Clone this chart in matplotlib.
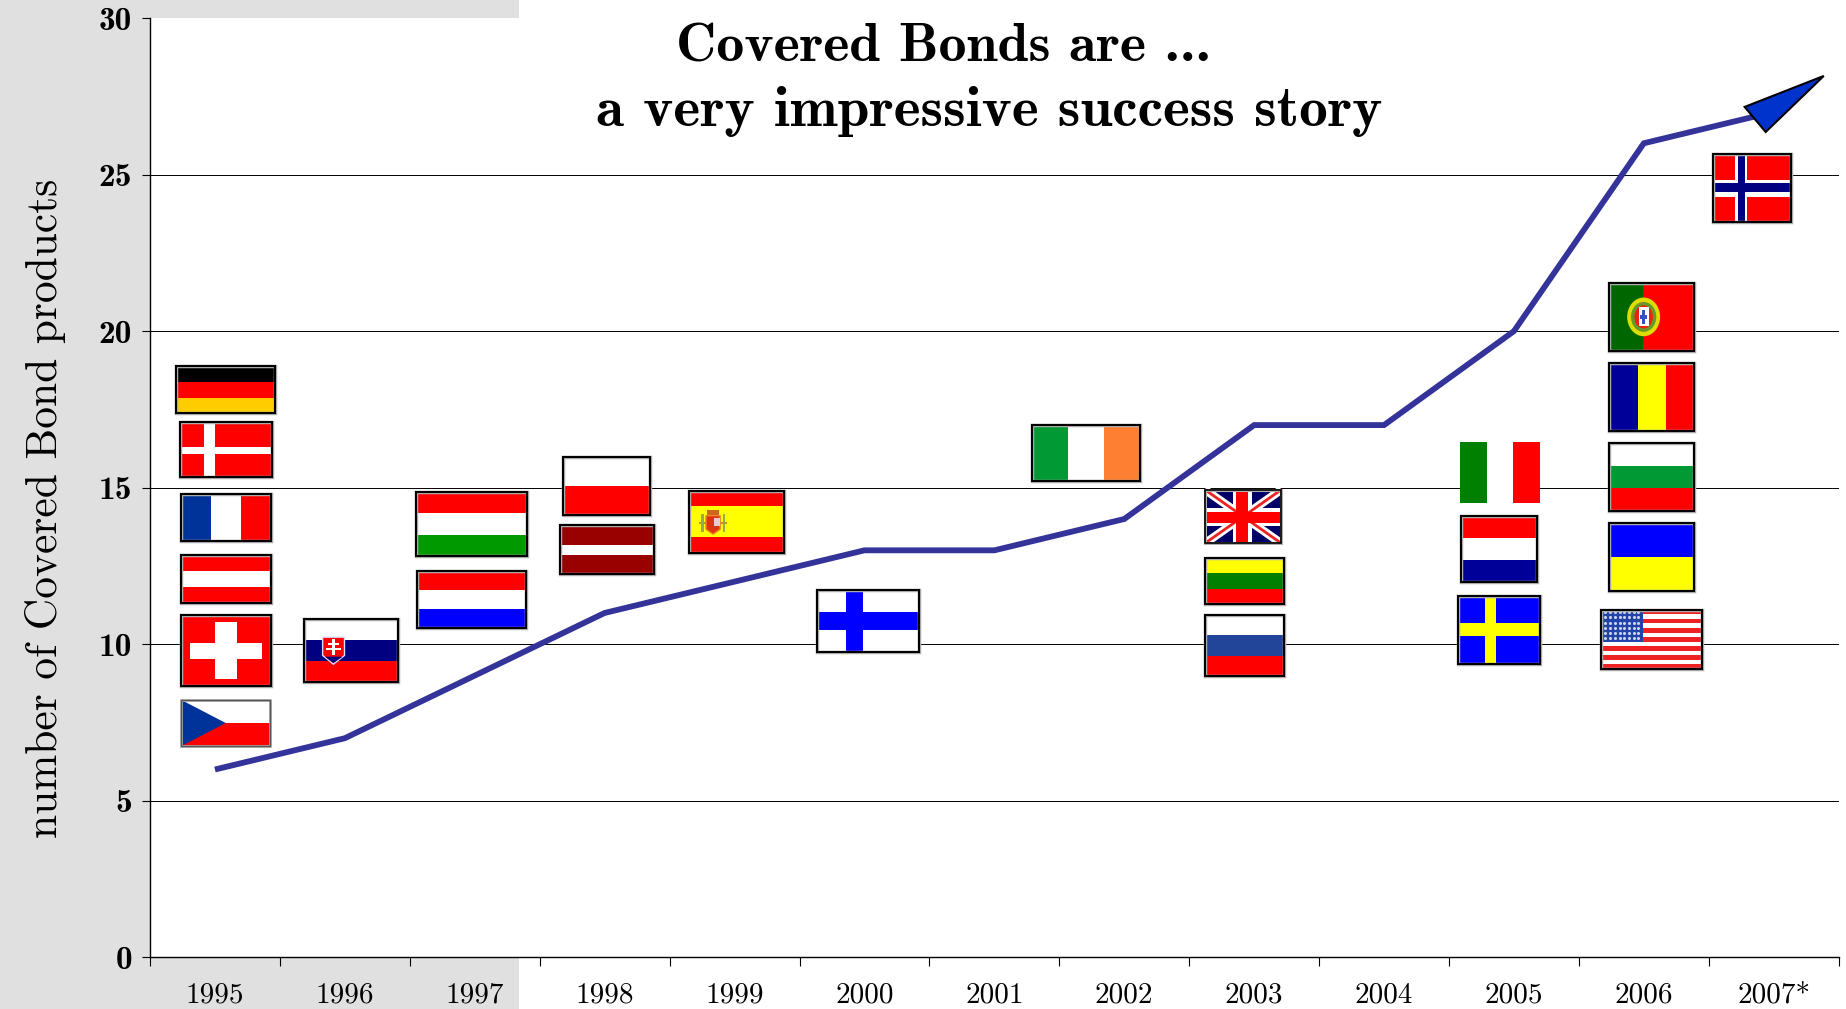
import numpy as np
import matplotlib
matplotlib.use("Agg")
import matplotlib.pyplot as plt
from matplotlib.patches import Rectangle, Polygon, Ellipse
from matplotlib.transforms import Affine2D

# === DATA ===
years = ["1995", "1996", "1997", "1998", "1999", "2000", "2001",
         "2002", "2003", "2004", "2005", "2006", "2007*"]
products = [6, 7, 9, 11, 12, 13, 13, 14, 17, 17, 20, 26, 27]
y_ticks = [0, 5, 10, 15, 20, 25, 30]

# flag boxes in axis units: left, right, bottom, top
flag_boxes = {
    "germany": (-0.30, 0.466, 17.37, 18.90),
    "denmark": (-0.27, 0.436, 15.33, 17.10),
    "france": (-0.265, 0.428, 13.29, 14.80),
    "austria": (-0.265, 0.428, 11.32, 12.85),
    "switzerland": (-0.262, 0.428, 8.68, 10.94),
    "czech": (-0.258, 0.424, 6.75, 8.22),
    "slovakia": (0.689, 1.406, 8.80, 10.81),
    "hungary": (1.551, 2.403, 12.82, 14.86),
    "netherlands": (1.555, 2.391, 10.53, 12.34),
    "poland": (2.679, 3.350, 14.13, 15.98),
    "latvia": (2.656, 3.380, 12.25, 13.81),
    "spain": (3.649, 4.377, 12.92, 14.90),
    "finland": (4.638, 5.420, 9.75, 11.73),
    "ireland": (6.287, 7.123, 15.20, 17.00),
    "uk": (7.620, 8.210, 13.22, 14.94),
    "lithuania": (7.620, 8.230, 11.29, 12.76),
    "russia": (7.620, 8.230, 8.99, 10.94),
    "italy": (9.585, 10.200, 14.51, 16.46),
    "luxembourg": (9.590, 10.180, 11.99, 14.10),
    "sweden": (9.570, 10.200, 9.37, 11.53),
    "portugal": (10.735, 11.385, 19.37, 21.54),
    "romania": (10.735, 11.385, 16.81, 18.98),
    "bulgaria": (10.735, 11.385, 14.26, 16.43),
    "ukraine": (10.735, 11.385, 11.70, 13.87),
    "usa": (10.672, 11.447, 9.21, 11.10),
    "norway": (11.530, 12.130, 23.49, 25.67),
}

# top to bottom
h_stripes = {
    "germany": ["#000000", "#ff0000", "#ffcc00"],
    "austria": ["#ff0000", "#ffffff", "#ff0000"],
    "slovakia": ["#ffffff", "#000080", "#ff0000"],
    "hungary": ["#ff0000", "#ffffff", "#009900"],
    "netherlands": ["#ff0000", "#ffffff", "#0000ff"],
    "poland": ["#ffffff", "#ff0000"],
    "lithuania": ["#ffff00", "#008000", "#ff0000"],
    "russia": ["#ffffff", "#224499", "#ff0000"],
    "luxembourg": ["#ff0000", "#ffffff", "#000099"],
    "bulgaria": ["#ffffff", "#009933", "#ff0000"],
    "ukraine": ["#0000ff", "#ffff00"],
}
v_stripes = {
    "france": ["#003399", "#ffffff", "#ff0000"],
    "ireland": ["#009933", "#ffffff", "#ff7f32"],
    "italy": ["#008000", "#ffffff", "#ff0000"],
    "romania": ["#000099", "#ffff00", "#ff0000"],
}

# === FIGURE ===
fig = plt.figure(figsize=(18.46, 10.09), dpi=100, facecolor="white")
fig.patches.append(Rectangle((0, 0), 519 / 1846, 1, transform=fig.transFigure,
                             facecolor="#e0e0e0", edgecolor="none", zorder=-5))
ax = fig.add_axes([150 / 1846, 51.6 / 1009, 1688.7 / 1846, 939.4 / 1009])
ax.set_facecolor("white")
ax.set_xlim(-0.5, 12.5)
ax.set_ylim(0, 30)

for s in ["top", "right"]:
    ax.spines[s].set_visible(False)
ax.spines["left"].set_linewidth(1.0)
ax.spines["bottom"].set_linewidth(1.0)

ax.set_yticks(y_ticks)
ax.set_yticklabels([str(v) for v in y_ticks], fontfamily="cmb10", fontsize=24)
ax.tick_params(axis="y", length=6, width=0.8, pad=7)
ax.set_xticks(np.arange(-0.5, 13, 1))
ax.set_xticklabels([])
ax.set_xticks(np.arange(len(years)), minor=True)
ax.set_xticklabels(years, minor=True, fontfamily="cmr10", fontsize=21)
ax.tick_params(axis="x", which="major", length=6.5, width=0.8)
ax.tick_params(axis="x", which="minor", length=0, pad=18)

ax.set_axisbelow(True)
ax.grid(axis="y", color="black", linewidth=0.7)
ax.yaxis.get_gridlines()[-1].set_visible(False)
ax.yaxis.get_gridlines()[0].set_visible(False)


# === FLAG HELPERS ===
def flag_transform(name):
    left, right, bottom, top = flag_boxes[name]
    return Affine2D().scale(right - left, top - bottom).translate(left, bottom) + ax.transData


def box(tr, x0, x1, y0, y1, color, z=3):
    r = Rectangle((x0, y0), x1 - x0, y1 - y0, transform=tr, facecolor=color,
                  edgecolor="none", zorder=z)
    ax.add_patch(r)
    return r


def border(tr, color="black", lw=1.5):
    # flags have a soft grey halo round the black frame
    ax.add_patch(Rectangle((0, 0), 1, 1, transform=tr, facecolor="none",
                           edgecolor="#b0b0b0", linewidth=lw + 1.0, zorder=5.9))
    ax.add_patch(Rectangle((0, 0), 1, 1, transform=tr, facecolor="none",
                           edgecolor=color, linewidth=lw, zorder=6))


def cross(tr, vx, hy, color):
    box(tr, vx[0], vx[1], 0, 1, color, z=4)
    box(tr, 0, 1, hy[0], hy[1], color, z=4)


# === PLAIN STRIPED FLAGS ===
for name, colors in h_stripes.items():
    tr = flag_transform(name)
    n = len(colors)
    for i, c in enumerate(colors):
        box(tr, 0, 1, 1 - (i + 1) / n, 1 - i / n, c)
    border(tr)

for name, colors in v_stripes.items():
    tr = flag_transform(name)
    n = len(colors)
    for i, c in enumerate(colors):
        box(tr, i / n, (i + 1) / n, 0, 1, c)
    if name != "italy":
        border(tr)

# === LATVIA ===
tr = flag_transform("latvia")
box(tr, 0, 1, 0, 1, "#990000")
box(tr, 0, 1, 0.38, 0.58, "#ffffff", z=4)
border(tr)

# === SPAIN ===
tr = flag_transform("spain")
box(tr, 0, 1, 0, 1, "#ff0000")
box(tr, 0, 1, 0.25, 0.75, "#ffff00", z=4)
box(tr, 0.19, 0.32, 0.60, 0.69, "#cc6622", z=5)
ax.add_patch(Polygon([(0.18, 0.60), (0.33, 0.60), (0.33, 0.38), (0.255, 0.30), (0.18, 0.38)],
                     transform=tr, facecolor="#dd3311", edgecolor="#ee8822", linewidth=1, zorder=5))
box(tr, 0.27, 0.33, 0.44, 0.56, "#e8c8d8", z=5.2)
for px in (0.14, 0.37):
    box(tr, px - 0.015, px + 0.015, 0.33, 0.62, "#99aa55", z=5)
box(tr, 0.11, 0.40, 0.46, 0.50, "#cc8833", z=4.8)
border(tr)

# === DENMARK / SWITZERLAND / FINLAND / SWEDEN / NORWAY ===
tr = flag_transform("denmark")
box(tr, 0, 1, 0, 1, "#ff0000")
cross(tr, (0.266, 0.378), (0.415, 0.554), "#ffffff")
border(tr)

tr = flag_transform("switzerland")
box(tr, 0, 1, 0, 1, "#ff0000")
box(tr, 0.383, 0.626, 0.09, 0.90, "#ffffff", z=4)
box(tr, 0.10, 0.91, 0.382, 0.606, "#ffffff", z=4)
border(tr)

tr = flag_transform("finland")
box(tr, 0, 1, 0, 1, "#ffffff")
cross(tr, (0.28, 0.45), (0.36, 0.64), "#0000ff")
border(tr)

tr = flag_transform("sweden")
box(tr, 0, 1, 0, 1, "#0000ff")
cross(tr, (0.33, 0.46), (0.41, 0.60), "#ffff00")
border(tr)

tr = flag_transform("norway")
box(tr, 0, 1, 0, 1, "#ff0000")
cross(tr, (0.285, 0.444), (0.37, 0.614), "#ffffff")
box(tr, 0.32, 0.41, 0, 1, "#000080", z=5)
box(tr, 0, 1, 0.44, 0.57, "#000080", z=5)
border(tr)

# === CZECH ===
tr = flag_transform("czech")
box(tr, 0, 1, 0, 1, "#ffffff")
box(tr, 0, 1, 0, 0.5, "#ff0000", z=4)
ax.add_patch(Polygon([(0, 1), (0.5, 0.5), (0, 0)], transform=tr, facecolor="#003399",
                     edgecolor="none", zorder=5))
border(tr, color="#555555", lw=1.0)

# === SLOVAK EMBLEM ===
tr = flag_transform("slovakia")
ax.add_patch(Polygon([(0.195, 0.71), (0.43, 0.71), (0.43, 0.42), (0.31, 0.28), (0.195, 0.42)],
                     transform=tr, facecolor="#ff0000", edgecolor="#ddddff", linewidth=1, zorder=5))
box(tr, 0.30, 0.325, 0.43, 0.68, "#ffffff", z=6)
box(tr, 0.25, 0.375, 0.58, 0.61, "#ffffff", z=6)
box(tr, 0.23, 0.395, 0.50, 0.53, "#ffffff", z=6)
ax.add_patch(Polygon([(0.22, 0.40), (0.41, 0.40), (0.31, 0.30)], transform=tr,
                     facecolor="#000080", edgecolor="none", zorder=6))

# === PORTUGAL ===
tr = flag_transform("portugal")
box(tr, 0, 1, 0, 1, "#ff0000")
box(tr, 0, 0.40, 0, 1, "#006600", z=4)
ax.add_patch(Ellipse((0.405, 0.5), 0.39, 0.57, transform=tr, facecolor="#dddd00", edgecolor="none", zorder=5))
ax.add_patch(Ellipse((0.405, 0.5), 0.30, 0.44, transform=tr, facecolor="#66992a", edgecolor="none", zorder=5.1))
ax.add_patch(Ellipse((0.405, 0.5), 0.22, 0.34, transform=tr, facecolor="#ee2211", edgecolor="none", zorder=5.2))
box(tr, 0.345, 0.465, 0.36, 0.64, "#ffffff", z=5.3)
box(tr, 0.39, 0.42, 0.40, 0.60, "#3355bb", z=5.4)
box(tr, 0.36, 0.45, 0.47, 0.53, "#3355bb", z=5.4)
border(tr)

# === USA ===
tr = flag_transform("usa")
for i in range(13):
    box(tr, 0, 1, i / 13, (i + 1) / 13, "#ee2222" if i % 2 == 0 else "#ffffff")
box(tr, 0, 0.41, 6 / 13, 1, "#2244aa", z=4)
sx, sy = np.meshgrid(np.linspace(0.04, 0.37, 8), np.linspace(0.52, 0.96, 6))
ax.plot(sx.ravel(), sy.ravel(), linestyle="none", marker="o", markersize=2.2, color="#ccd5ee",
        markeredgewidth=0, transform=tr, zorder=5)
border(tr)

# === UK ===
tr = flag_transform("uk")
base = box(tr, 0, 1, 0, 1, "#000066")
for (x, y) in [((0, 1), (0, 1)), ((0, 1), (1, 0))]:
    ax.plot(x, y, color="white", linewidth=6, transform=tr, zorder=4, clip_path=base,
            solid_capstyle="butt")
    ax.plot(x, y, color="#ee2222", linewidth=2, transform=tr, zorder=4.5, clip_path=base,
            solid_capstyle="butt")
cross(tr, (0.37, 0.61), (0.32, 0.65), "#ffffff")
box(tr, 0.41, 0.57, 0, 1, "#ff0000", z=5)
box(tr, 0, 1, 0.385, 0.59, "#ff0000", z=5)
border(tr, lw=1.2)

# === LINE AND ARROW ===
ax.plot(np.arange(len(years)), products, color="#333399", linewidth=4.2, zorder=7,
        solid_joinstyle="miter", solid_capstyle="butt")
ax.add_patch(Polygon([(12.385, 28.15), (11.776, 27.16), (11.938, 26.36)], facecolor="#0033cc",
                     edgecolor="black", linewidth=1.5, zorder=8, joinstyle="miter"))

# === TEXT ===
fig.text(46 / 1846, 1 - 508 / 1009, "number of Covered Bond products", rotation=90, ha="center",
         va="center", fontfamily="cmr10", fontsize=31.3)
fig.text(676 / 1846, 1 - 61.5 / 1009, "Covered Bonds are ...", ha="left", va="baseline",
         fontfamily="cmb10", fontsize=40.2)
fig.text(596 / 1846, 1 - 126 / 1009, "a very impressive success story", ha="left", va="baseline",
         fontfamily="cmb10", fontsize=41.3)

fig.savefig("out.png", dpi=100)
